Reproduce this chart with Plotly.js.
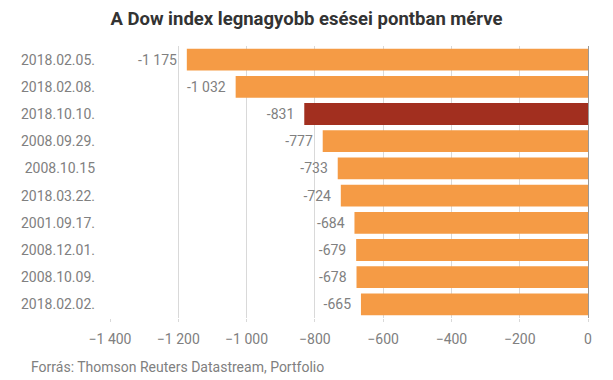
<!DOCTYPE html>
<html><head><meta charset="utf-8">
<script src="https://cdn.plot.ly/plotly-3.0.1.min.js"></script>
<style>body{margin:0;background:#fff}#c{width:613px;height:380px}</style>
</head><body><div id="c"></div>
<script>
const dates = ["2018.02.05.","2018.02.08.","2018.10.10.","2008.09.29.","2008.10.15","2018.03.22.","2001.09.17.","2008.12.01.","2008.10.09.","2018.02.02."];
const drops = [-1175,-1032,-831,-777,-733,-724,-684,-679,-678,-665];
const highlight = "2018.10.10.";
const tickVals = [-1400,-1200,-1000,-800,-600,-400,-200,0];
const orange = "#f59b45", dark = "#a22f1f";
const colors = dates.map(d => d === highlight ? dark : orange);

Plotly.newPlot("c", [{
  type: "bar", orientation: "h", y: dates, x: drops,
  marker: {color: colors},
  texttemplate: "%{x:,.0f}\u00a0\u00a0", textposition: "outside", cliponaxis: false,
  textfont: {family: "Roboto", size: 14, color: "#808080"},
  hoverinfo: "none"
}], {
  width: 613, height: 380,
  margin: {l: 110, r: 25, t: 46, b: 62},
  separators: ". ",
  paper_bgcolor: "#fff", plot_bgcolor: "#fff",
  bargap: 0.2,
  font: {family: "Roboto", color: "#808080"},
  title: {text: "<b>A Dow index legnagyobb esései pontban mérve</b>", x: 0.5, xanchor: "center", y: 0.952, yanchor: "middle",
          font: {family: "Roboto", size: 18.5, color: "#333"}},
  xaxis: {range: [-1400, 0], tickvals: tickVals, tickformat: ",d",
          showgrid: true, gridcolor: "#d9d9d9", gridwidth: 1,
          zeroline: true, zerolinecolor: "#999", zerolinewidth: 1,
          ticks: "outside", ticklen: 3, tickcolor: "#d9d9d9",
          ticklabelstandoff: 5,
          tickfont: {family: "Roboto", size: 14, color: "#808080"}, fixedrange: true},
  yaxis: {autorange: "reversed", ticks: "", ticklabelstandoff: 14,
          tickfont: {family: "Roboto", size: 14, color: "#808080"}, showgrid: false, fixedrange: true},
  annotations: [{text: "Forrás: Thomson Reuters Datastream, Portfolio", xref: "paper", yref: "paper",
    x: -98/578, xanchor: "left", y: 0, yshift: -49, yanchor: "middle", showarrow: false,
    font: {family: "Roboto", size: 14, color: "#808080"}}]
}, {displayModeBar: false, staticPlot: true});
</script></body></html>
